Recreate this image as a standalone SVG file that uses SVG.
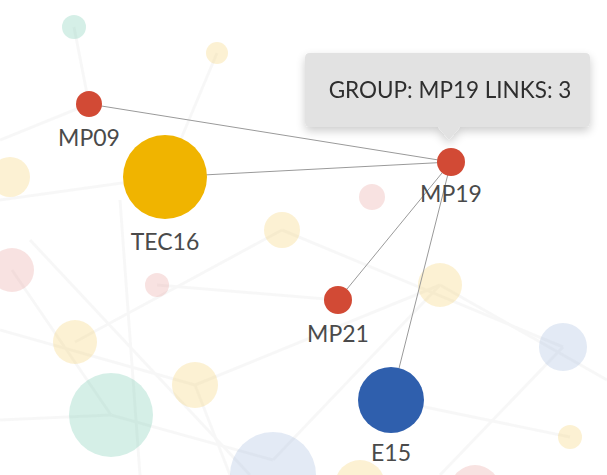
<svg xmlns="http://www.w3.org/2000/svg" width="607" height="475" viewBox="0 0 607 475">
<defs>
<style>
.bg{opacity:0.33}
.bgl{stroke:#efefef;stroke-width:3;fill:none;opacity:0.45}
.link{stroke:#9a9a9a;stroke-width:1;fill:none}
.lbl{font-family:Lato,"Open Sans",sans-serif;font-size:23px;fill:#4a4a4a;text-anchor:middle}
.tip{font-family:Lato,"Open Sans",sans-serif;font-size:22.5px;fill:#2e2e2e;text-anchor:middle}
</style>
<filter id="sh" x="-20%" y="-30%" width="140%" height="170%">
<feGaussianBlur in="SourceAlpha" stdDeviation="5"/>
<feOffset dy="4"/>
<feComponentTransfer><feFuncA type="linear" slope="0.2"/></feComponentTransfer>
<feMerge><feMergeNode/><feMergeNode in="SourceGraphic"/></feMerge>
</filter>
</defs>
<rect width="607" height="475" fill="#ffffff"/>
<g id="background">
<g class="bgl">
<line x1="0" y1="200" x2="165" y2="177"/>
<line x1="0" y1="140" x2="89" y2="104"/>
<line x1="12" y1="270" x2="111" y2="415"/>
<line x1="75" y1="342" x2="282" y2="230"/>
<line x1="195" y1="385" x2="440" y2="285"/>
<line x1="111" y1="415" x2="273" y2="460"/>
<line x1="282" y1="230" x2="563" y2="347"/>
<line x1="440" y1="285" x2="607" y2="380"/>
<line x1="0" y1="330" x2="195" y2="385"/>
<line x1="157" y1="285" x2="338" y2="300"/>
<line x1="74" y1="27" x2="89" y2="104"/>
<line x1="217" y1="53" x2="165" y2="177"/>
<line x1="0" y1="420" x2="111" y2="415"/>
<line x1="391" y1="400" x2="570" y2="437"/>
<line x1="273" y1="460" x2="440" y2="285"/>
<line x1="195" y1="385" x2="230" y2="475"/>
<line x1="563" y1="347" x2="440" y2="475"/>
<line x1="30" y1="240" x2="250" y2="475"/>
<line x1="120" y1="200" x2="140" y2="475"/>
</g>
<circle class="bg" cx="74" cy="27" r="12" fill="#7fcfb6"/>
<circle class="bg" cx="217" cy="53" r="11" fill="#f7d47a"/>
<circle class="bg" cx="10" cy="177" r="20" fill="#f7d47a"/>
<circle class="bg" cx="372" cy="197" r="13" fill="#eba7a5"/>
<circle class="bg" cx="282" cy="230" r="18" fill="#f7d47a"/>
<circle class="bg" cx="12" cy="270" r="22" fill="#eba7a5"/>
<circle class="bg" cx="157" cy="285" r="12" fill="#eba7a5"/>
<circle class="bg" cx="440" cy="285" r="22" fill="#f7d47a"/>
<circle class="bg" cx="563" cy="347" r="24" fill="#a9bfe0"/>
<circle class="bg" cx="75" cy="342" r="22" fill="#f7d47a"/>
<circle class="bg" cx="111" cy="415" r="42" fill="#7fcfb6"/>
<circle class="bg" cx="195" cy="385" r="23" fill="#f7d47a"/>
<circle class="bg" cx="273" cy="475" r="43" fill="#a9bfe0"/>
<circle class="bg" cx="570" cy="437" r="12" fill="#f7d47a"/>
<circle class="bg" cx="360" cy="485" r="25" fill="#f7d47a"/>
<circle class="bg" cx="475" cy="490" r="25" fill="#eba7a5"/>
</g>
<g id="connectors">
<line class="link" x1="89" y1="104" x2="451" y2="162"/>
<line class="link" x1="165" y1="177" x2="451" y2="162"/>
<line class="link" x1="338" y1="300" x2="451" y2="162"/>
<line class="link" x1="391" y1="400" x2="451" y2="162"/>
</g>
<g id="MP09"><circle cx="89" cy="104" r="13" fill="#d24a35"/><text class="lbl" x="89" y="146">MP09</text></g>
<g id="TEC16"><circle cx="165" cy="177" r="42" fill="#f0b400"/><text class="lbl" x="165" y="250">TEC16</text></g>
<g id="MP19"><circle cx="451" cy="162" r="14" fill="#d24a35"/><text class="lbl" x="451" y="202">MP19</text></g>
<g id="MP21"><circle cx="338" cy="300" r="14" fill="#d24a35"/><text class="lbl" x="338" y="342">MP21</text></g>
<g id="E15"><circle cx="391" cy="400" r="33" fill="#2f5fad"/><text class="lbl" x="391" y="461">E15</text></g>
<g id="tooltip" filter="url(#sh)">
<path d="M310,53 H585 Q590,53 590,58 V122 Q590,127 585,127 H460 L449,140 L438,127 H310 Q305,127 305,122 V58 Q305,53 310,53 Z" fill="#e2e2e2"/>
<text class="tip" x="450" y="98">GROUP: MP19 LINKS: 3</text>
</g>
</svg>
